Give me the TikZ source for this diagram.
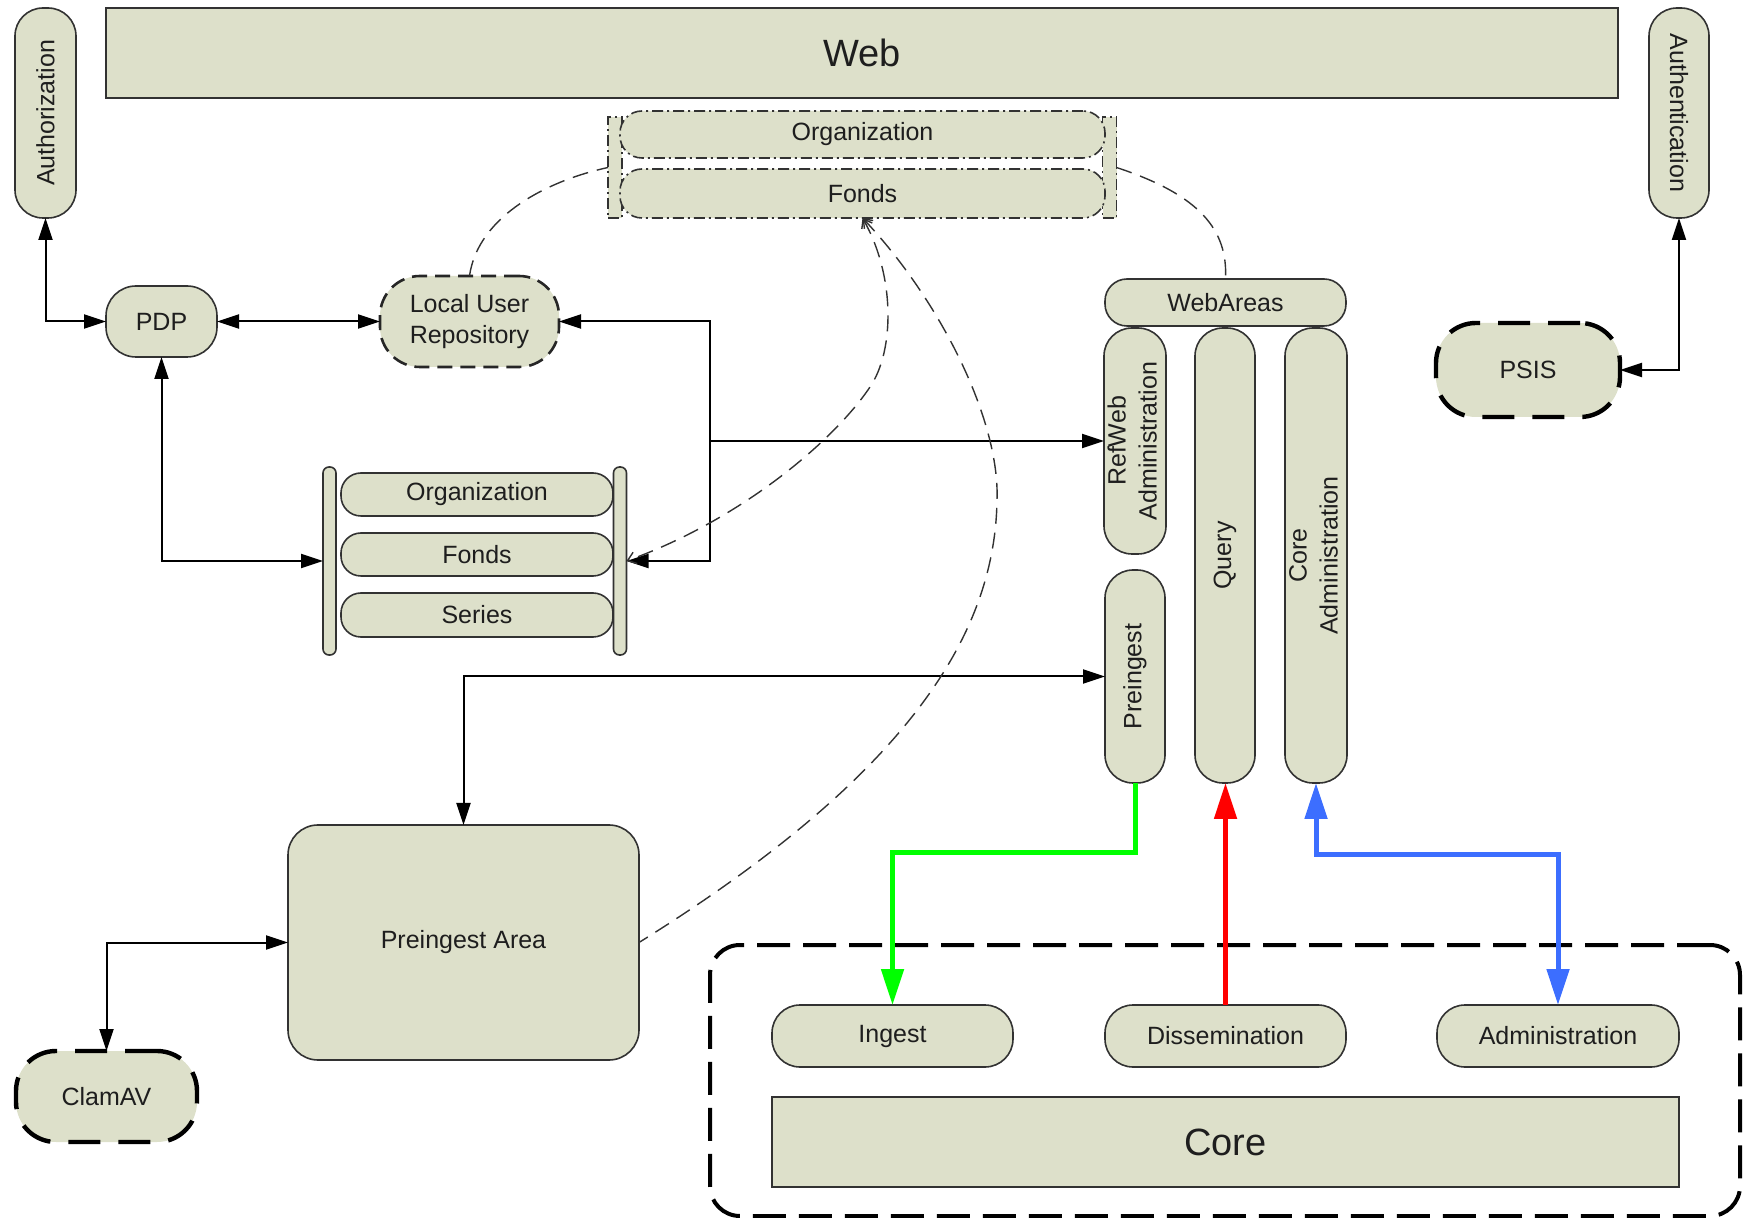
\documentclass[tikz,border=0pt]{standalone}
\usepackage{fontspec}
\setmainfont{Liberation Sans}
\usetikzlibrary{arrows.meta}
\definecolor{khaki}{RGB}{221,224,202}
\definecolor{bord}{RGB}{50,50,50}
\definecolor{txt}{RGB}{30,30,30}
\definecolor{gline}{RGB}{0,255,0}
\definecolor{rline}{RGB}{255,0,0}
\definecolor{bline}{RGB}{60,110,255}
\begin{document}
\begin{tikzpicture}[x=0.5pt,y=-0.5pt,
  >={Triangle[length=11pt,width=7pt]},
  box/.style={draw=bord, fill=khaki, line width=0.8pt, inner sep=0pt, outer sep=0pt,
    text=txt, font=\fontsize{12.5}{15.5}\selectfont, align=center},
  ddash/.style={dash pattern=on 5.5pt off 2pt on 1pt off 2pt},
  bigdash/.style={draw=black, line width=2.2pt, dash pattern=on 16pt off 9pt},
  middash/.style={draw=black!85, line width=1.3pt, dash pattern=on 7.5pt off 4pt},
  arrowline/.style={draw=black, line width=1pt},
  thindash/.style={draw=bord, line width=0.7pt, dash pattern=on 8pt off 4.5pt},
  colline/.style={line width=2.5pt, >={Triangle[length=18pt,width=11pt]}},
]
\useasboundingbox (0,0) rectangle (1746,1218);

% top
\node[box, minimum width=756pt, minimum height=45pt, font=\fontsize{19}{22}\selectfont] (web) at (862,53) {Web};
\node[box, rounded corners=14pt, minimum width=30.5pt, minimum height=105pt] (authz) at (45.5,113) {\rotatebox{90}{Authorization}};
\node[box, rounded corners=14pt, minimum width=30pt, minimum height=105pt] (authn) at (1679,113) {\rotatebox{-90}{Authentication}};

% top group
\node[box, ddash, minimum width=7pt, minimum height=50.5pt] (lbr) at (615,167.5) {};
\node[box, ddash, minimum width=7pt, minimum height=50.5pt] (rbr) at (1109.5,167.5) {};
\node[box, ddash, rounded corners=11pt, minimum width=242.5pt, minimum height=23.5pt] (org1) at (862.5,134.5) {Organization};
\node[box, ddash, rounded corners=11pt, minimum width=242.5pt, minimum height=24.5pt] (fonds1) at (862.5,193.5) {Fonds};

% PDP and repository
\node[box, rounded corners=15pt, minimum width=55.5pt, minimum height=35.5pt] (pdp) at (161.5,321.5) {PDP};
\node[box, middash, rounded corners=20pt, minimum width=89.5pt, minimum height=45.5pt] (lur) at (469.5,321.5) {Local User\\Repository};

% middle group
\node[box, rounded corners=10pt, minimum width=136pt, minimum height=21.5pt] (org2) at (477,494.5) {Organization};
\node[box, rounded corners=10pt, minimum width=136pt, minimum height=21.5pt] (fonds2) at (477,554.5) {Fonds};
\node[box, rounded corners=10pt, minimum width=136pt, minimum height=22pt] (series2) at (477,615) {Series};
\node[box, rounded corners=3pt, minimum width=6.5pt, minimum height=94pt] (lbar) at (329.5,561) {};
\node[box, rounded corners=3pt, minimum width=6.5pt, minimum height=94pt] (rbar) at (620,561) {};

% web areas
\node[box, rounded corners=11pt, minimum width=120.5pt, minimum height=23.5pt] (webareas) at (1225.5,302.5) {WebAreas};
\node[box, rounded corners=14pt, minimum width=30pt, minimum height=113pt] (refweb) at (1135,441) {\rotatebox{90}{\begin{tabular}{@{}c@{}}RefWeb\\Administration\end{tabular}}};
\node[box, rounded corners=14pt, minimum width=30pt, minimum height=227.5pt] (query) at (1225,555.5) {\rotatebox{90}{Query}};
\node[box, rounded corners=14pt, minimum width=30pt, minimum height=227.5pt] (coreadm) at (1316,555.5) {\rotatebox{90}{\begin{tabular}{@{}c@{}}Core\\Administration\end{tabular}}};
\node[box, rounded corners=14pt, minimum width=30pt, minimum height=106.5pt] (preingest) at (1135,676.5) {\rotatebox{90}{Preingest}};

\node[box, bigdash, fill=khaki, rounded corners=20pt, minimum width=92pt, minimum height=47pt] (psis) at (1528,370) {PSIS};

% lower left
\node[box, rounded corners=15pt, minimum width=175.5pt, minimum height=117.5pt] (parea) at (463.5,942.5) {Preingest Area};
\node[box, bigdash, fill=khaki, rounded corners=20pt, minimum width=90.5pt, minimum height=45.5pt] (clamav) at (106.5,1096.5) {ClamAV};

% core container
\node[bigdash, line width=2pt, dash pattern=on 16.5pt off 6.5pt, rounded corners=15pt, inner sep=0pt, outer sep=0pt, minimum width=515pt, minimum height=135.5pt] (corebox) at (1225,1080.5) {};
\node[box, rounded corners=14pt, minimum width=120.5pt, minimum height=31pt] (ingest) at (892.5,1036) {Ingest};
\node[box, rounded corners=14pt, minimum width=120.5pt, minimum height=31pt] (dissem) at (1225.5,1036) {Dissemination};
\node[box, rounded corners=14pt, minimum width=121pt, minimum height=31pt] (admin) at (1558,1036) {Administration};
\node[box, minimum width=453.5pt, minimum height=45pt, font=\fontsize{19}{22}\selectfont] (core) at (1225.5,1142) {Core};

% black connectors
\draw[arrowline, <->] (authz.south) |- (pdp.west);
\draw[arrowline, <->] (pdp.east) -- (lur.west);
\draw[arrowline, <->] (pdp.south) |- (lbar.west);
\coordinate (j) at (710,441);
\draw[arrowline, ->] (j) -- (refweb.west);
\draw[arrowline, ->] (j) |- (lur.east);
\draw[arrowline, ->] (j) |- (rbar.east);
\draw[arrowline, <->] (preingest.west) -| (parea.north);
\draw[arrowline, <->] (parea.west) -| (clamav.north);
\draw[arrowline, <->] (authn.south) |- (psis.east);

% coloured connectors
\coordinate (g1) at (1135,853);
\coordinate (b1) at (1316,855);
\draw[colline, draw=gline, ->] (preingest.south) -- (preingest.south |- g1) -| (ingest.north);
\draw[colline, draw=rline, ->] (dissem.north) -- (dissem.north |- query.south);
\draw[colline, draw=bline, <->] (coreadm.south) -- (coreadm.south |- b1) -| (admin.north);

% dashed curves
\draw[thindash] (lur.north) .. controls (478,215) and (550,180) .. (lbr.west);
\draw[thindash] (rbr.east) .. controls (1200,195) and (1228,230) .. (webareas.north);
\draw[thindash, {Straight Barb[length=4pt,width=6pt]}-{Straight Barb[length=4pt,width=6pt]}] (fonds1.south) .. controls (895,275) and (895,350) .. (870,387) .. controls (833,442) and (740,520) .. (rbar.east);
\draw[thindash, {Straight Barb[length=4pt,width=6pt]}-] (fonds1.south) .. controls (940,300) and (1000,420) .. (997,500) .. controls (995,640) and (900,780) .. (parea.east);
\end{tikzpicture}
\end{document}
